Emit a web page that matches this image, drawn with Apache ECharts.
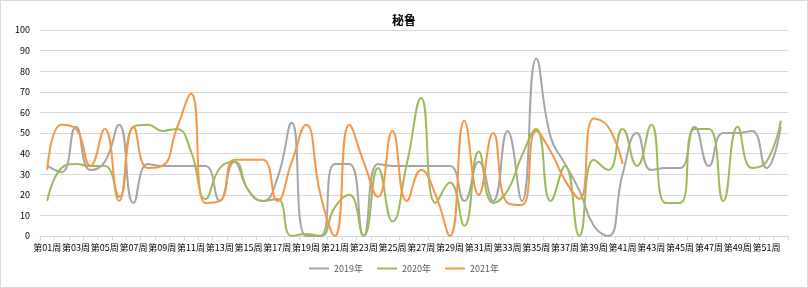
<!DOCTYPE html>
<html><head><meta charset="utf-8">
<script src="https://cdn.jsdelivr.net/npm/echarts@6/dist/echarts.min.js"></script>
<style>html,body{margin:0;padding:0;background:#fff}#c{width:806px;height:286px;border:1px solid #d9d9d9}</style>
</head><body><div id="c"></div>
<script>
var weeks = [];
for (var i = 1; i <= 52; i++) weeks.push('第' + (i < 10 ? '0' + i : i) + '周');
var title = '秘鲁';
var seriesNames = ['2019年', '2020年', '2021年'];
var v2019 = [34,31,53,32,36,54,16,35,34,34,34,34,17,36,22,17,28,55,0,0,35,35,0,35,34,34,34,34,34,17,36,17,51,17,86,48,35,22,5,0,30,50,32,33,33,53,34,50,50,51,33,53];
var v2020 = [17,33,35,34,34,19,53,54,51,52,41,18,33,36,22,17,18,0,1,0,14,20,0,33,7,35,67,16,26,5,41,16,22,39,52,17,34,0,37,32,52,34,54,16,16,52,52,17,53,33,36,56];
var v2021 = [32,54,52,34,52,17,53,33,34,52,69,16,17,37,37,37,17,36,54,20,0,54,36,19,51,17,32,20,0,56,20,50,16,15,51,41,27,18,57,53,35];
var colors = ['#A5A5A5', '#9BBB59', '#F79646'];
var font = '"Noto Sans CJK SC", "Noto Sans", sans-serif';
var chart = echarts.init(document.getElementById('c'));
chart.setOption({
  animation: false,
  color: colors,
  title: {text: title, left: 'center', top: 8, textStyle: {fontSize: 12, fontWeight: 'bold', color: '#000', fontFamily: font}},
  legend: {bottom: 9, left: 'center', itemWidth: 20, itemHeight: 2, itemGap: 14, icon: 'rect',
    textStyle: {fontSize: 9, color: '#595959', fontFamily: font}, data: seriesNames},
  grid: {left: 39, right: 19, top: 29, bottom: 51},
  xAxis: {type: 'category', data: weeks, boundaryGap: true,
    axisLine: {lineStyle: {color: '#d9d9d9'}},
    axisTick: {show: true, length: 4, interval: 0, lineStyle: {color: '#d9d9d9'}},
    axisLabel: {interval: 1, fontSize: 9, color: '#000', margin: 7, fontFamily: font}},
  yAxis: {type: 'value', min: 0, max: 100, interval: 10,
    axisLine: {show: false}, axisTick: {show: false},
    splitLine: {lineStyle: {color: '#d9d9d9'}},
    axisLabel: {fontSize: 9, color: '#000', margin: 10, fontFamily: font}},
  series: [
    {name: seriesNames[0], type: 'line', data: v2019, smooth: 0.5, symbol: 'none', lineStyle: {width: 2}},
    {name: seriesNames[1], type: 'line', data: v2020, smooth: 0.5, symbol: 'none', lineStyle: {width: 2}},
    {name: seriesNames[2], type: 'line', data: v2021, smooth: 0.5, symbol: 'none', lineStyle: {width: 2}}
  ]
});
</script></body></html>
